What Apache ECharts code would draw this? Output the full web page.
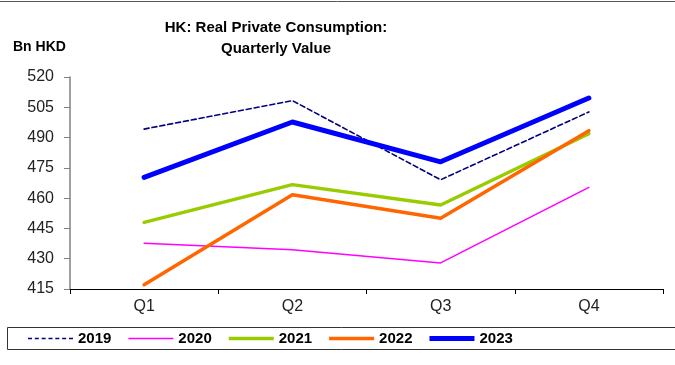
<!DOCTYPE html>
<html><head><meta charset="utf-8">
<script src="https://cdn.jsdelivr.net/npm/echarts@6/dist/echarts.min.js"></script>
<style>html,body{margin:0;padding:0;background:#fff}#c{width:675px;height:365px}</style>
</head><body><div id="c"></div>
<script>
var categories = ['Q1','Q2','Q3','Q4'];
var years = ['2019','2020','2021','2022','2023'];
var v2019 = [494.2, 508.3, 469.1, 502.7];
var v2020 = [437.6, 434.5, 427.9, 465.3];
var v2021 = [448.0, 466.7, 456.6, 491.9];
var v2022 = [417.1, 461.7, 450.0, 493.4];
var v2023 = [470.3, 497.7, 478.0, 509.6];
var yTicks = [415, 430, 445, 460, 475, 490, 505, 520];

var font = 'Liberation Sans, Arial, sans-serif';
var styles = [
  {color:'#000080', width:1.6, type:[5,3]},
  {color:'#FF00FF', width:1.5, type:'solid'},
  {color:'#99CC00', width:3.5, type:'solid'},
  {color:'#FF6600', width:3.5, type:'solid'},
  {color:'#0000FF', width:5, type:'solid'}
];
function iconPath(s){
  var h = s.width;
  if (s.type === 'solid') return 'path://M0,0H45V'+h+'H0Z';
  var p = '', x = 0;
  while (x < 45) { var w = Math.min(4, 45 - x); p += 'M'+x+',0H'+(x+w)+'V'+h+'H'+x+'Z'; x += 6.8; }
  return 'path://' + p;
}
var vals = [v2019, v2020, v2021, v2022, v2023];
var series = years.map(function(y,i){
  return {name:y, type:'line', data:vals[i], symbol:'none', z: 10+i,
    lineStyle:{color:styles[i].color, width:styles[i].width, type:styles[i].type, cap:'round', join:'round'},
    itemStyle:{color:styles[i].color}};
});
var chart = echarts.init(document.getElementById('c'), null, {renderer:'canvas'});
chart.setOption({
  animation:false,
  backgroundColor:'#fff',
  title:{text:'HK: Real Private Consumption:\nQuarterly Value', left:271, top:12, textAlign:'center',
    textStyle:{fontFamily:font, fontWeight:'bold', fontSize:15, color:'#000', lineHeight:21}},
  graphic:[
    {type:'line', shape:{x1:0,y1:1.5,x2:675,y2:1.5}, style:{stroke:'#555', lineWidth:1}},
    {type:'text', left:13, top:40, style:{text:'Bn HKD', font:'bold 14px '+font, fill:'#000'}},
    {type:'rect', shape:{x:7.5,y:327.5,width:700,height:22}, style:{fill:null, stroke:'#333', lineWidth:1}, z:-1}
  ],
  legend:{
    data: years.map(function(y,i){return {name:y, icon:iconPath(styles[i]), itemStyle:{color:styles[i].color, borderWidth:0}};}),
    left:28, top:331, orient:'horizontal', itemWidth:45, itemHeight:14, itemGap:17, padding:0,
    symbolKeepAspect:true,
    textStyle:{fontFamily:font, fontWeight:'bold', fontSize:15, color:'#000'}
  },
  grid:{left:70, right:12, top:77, bottom:76, containLabel:false},
  xAxis:{type:'category', data:categories, boundaryGap:true,
    axisLine:{lineStyle:{color:'#000', width:1}},
    axisTick:{show:true, inside:false, length:5, lineStyle:{color:'#000'}},
    axisLabel:{fontFamily:font, fontSize:16, color:'#222', margin:10},
    splitLine:{show:false}},
  yAxis:{type:'value', min:yTicks[0], max:yTicks[yTicks.length-1], interval:15,
    axisLine:{show:true, lineStyle:{color:'#808080', width:1.5}},
    axisTick:{show:true, length:6, lineStyle:{color:'#808080'}},
    axisLabel:{fontFamily:font, fontSize:16, color:'#222', margin:16},
    splitLine:{show:false}},
  series:series
});
</script></body></html>
